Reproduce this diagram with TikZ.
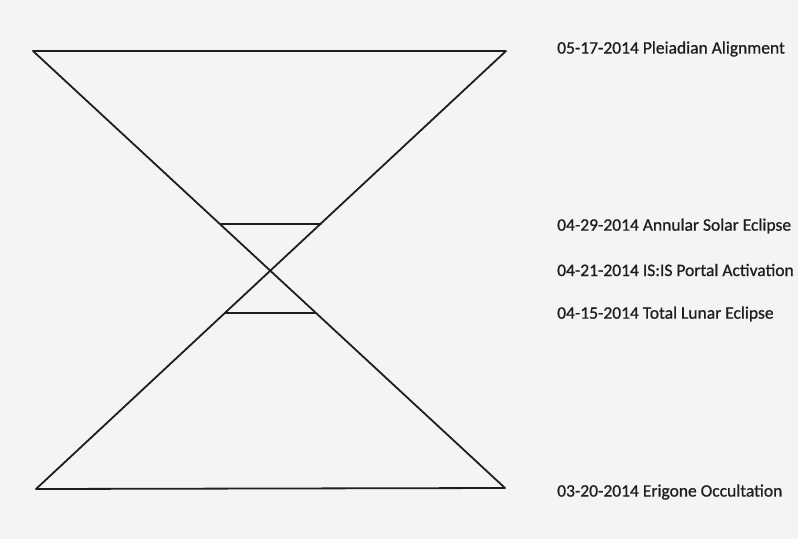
\documentclass[tikz,border=0pt]{standalone}
\usepackage{fontspec}
\setmainfont[FakeBold=0.8]{Carlito}
\definecolor{paper}{HTML}{F4F4F2}
\definecolor{ink}{HTML}{1E1E1E}
\begin{document}
\begin{tikzpicture}[x=1pt,y=-1pt,
  edge/.style={draw=ink,line width=1.8pt,line cap=round,line join=round},
  lbl/.style={anchor=west,inner sep=0pt,text=ink,font=\fontsize{17.5}{20}\selectfont}]
\fill[paper] (0,0) rectangle (798,539);
\useasboundingbox (0,0) rectangle (798,539);
\coordinate (tl) at (33,51);
\coordinate (tr) at (506,51);
\coordinate (bl) at (36,489);
\coordinate (br) at (505,488);
\coordinate (s1) at (221,224);
\coordinate (s2) at (321,224);
\coordinate (l1) at (225,313);
\coordinate (l2) at (315,313);
\draw[edge] (tl) -- (tr) -- (bl) -- (br) -- cycle;
\draw[edge] (s1) -- (s2);
\draw[edge] (l1) -- (l2);
\node[lbl] (a) at (557,49) {05-17-2014 Pleiadian Alignment};
\node[lbl] (b) at (557,226) {04-29-2014 Annular Solar Eclipse};
\node[lbl] (c) at (557,270) {04-21-2014 IS:IS Portal Activation};
\node[lbl] (d) at (557,314) {04-15-2014 Total Lunar Eclipse};
\node[lbl] (e) at (557,492) {03-20-2014 Erigone Occultation};
\end{tikzpicture}
\end{document}
